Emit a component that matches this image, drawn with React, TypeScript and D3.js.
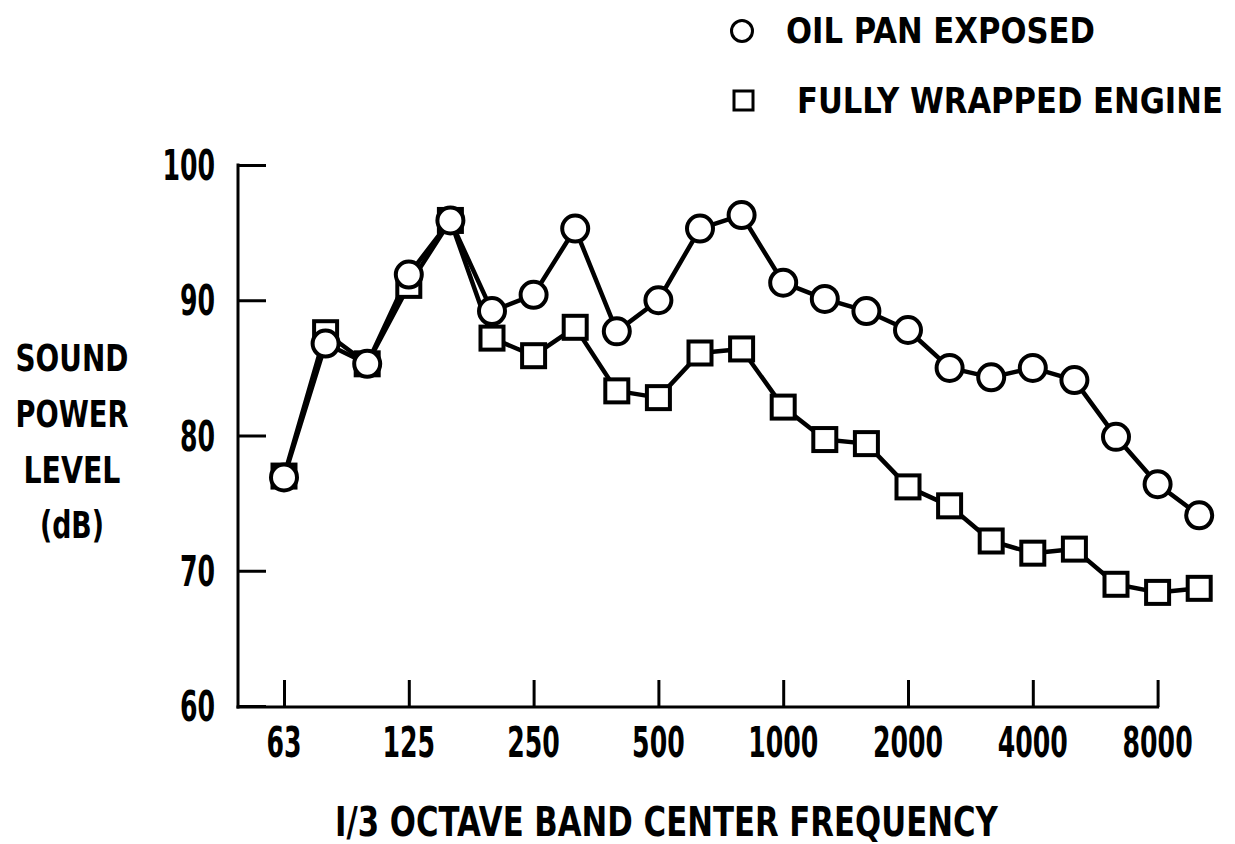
import React, { useRef, useEffect } from "react";
import * as d3 from "d3";

// 1/3 octave band centre frequencies (Hz)
const bands = [
  "63", "80", "100", "125", "160", "200", "250", "315", "400", "500", "630", "800",
  "1000", "1250", "1600", "2000", "2500", "3150", "4000", "5000", "6300", "8000", "10000",
];
const tickBands = ["63", "125", "250", "500", "1000", "2000", "4000", "8000"];
const yTicks = [60, 70, 80, 90, 100];

// sound power level, dB
const oilPanExposed = [
  76.9, 86.8, 85.3, 91.9, 95.9, 89.2, 90.4, 95.3, 87.7, 90.0, 95.3, 96.3,
  91.3, 90.1, 89.2, 87.8, 85.0, 84.3, 85.0, 84.1, 79.9, 76.4, 74.1,
];
const fullyWrapped = [
  77.0, 87.6, 85.3, 91.1, 95.9, 87.2, 85.9, 88.0, 83.3, 82.8, 86.1, 86.4,
  82.1, 79.7, 79.4, 76.2, 74.8, 72.2, 71.3, 71.6, 69.0, 68.4, 68.7,
];

const yTitleLines = ["SOUND", "POWER", "LEVEL", "(dB)"];

const FONT = "'DejaVu Sans', sans-serif";

export default function App() {
  const svgRef = useRef<SVGSVGElement | null>(null);

  useEffect(() => {
    const svg = d3.select(svgRef.current);
    svg.selectAll("*").remove();

    const width = 1235;
    const height = 844;
    svg.attr("width", width).attr("height", height).attr("viewBox", `0 0 ${width} ${height}`);

    const axisX = 238;
    const axisY = 707;
    const ink = "#000";

    const x = d3.scalePoint<string>().domain(bands).range([284, 284 + 22 * 41.6]);
    const y = d3.scaleLinear().domain([60, 100]).range([706, 165]);

    // the scan uses a narrow typeface, so squeeze DejaVu horizontally
    const label = (
      txt: string, cx: number, cy: number, size: number,
      anchor: string, sx: number,
    ) =>
      svg.append("text")
        .attr("transform", `translate(${cx},${cy}) scale(${sx},1)`)
        .attr("dy", "0.36em")
        .attr("text-anchor", anchor)
        .attr("font-family", FONT)
        .attr("font-weight", "bold")
        .attr("font-size", size)
        .attr("fill", ink)
        .text(txt);

    // squeeze to a given width, measured after render
    const fitLabel = (
      txt: string, left: number, cy: number, size: number, w: number,
    ) => {
      const t = label(txt, left, cy, size, "start", 1);
      const natural = (t.node() as SVGTextElement).getComputedTextLength() || w;
      t.attr("transform", `translate(${left},${cy}) scale(${w / natural},1)`);
      return t;
    };

    // axis lines
    svg.append("line")
      .attr("x1", axisX).attr("x2", axisX)
      .attr("y1", y(100) - 1.5).attr("y2", axisY + 1.5)
      .attr("stroke", ink).attr("stroke-width", 3);
    svg.append("line")
      .attr("x1", axisX - 1.5).attr("x2", (x("8000") as number) + 1.5)
      .attr("y1", axisY).attr("y2", axisY)
      .attr("stroke", ink).attr("stroke-width", 3);

    // ticks
    const gx = svg.append("g")
      .attr("transform", `translate(0,${axisY})`)
      .call(d3.axisBottom(x).tickValues(tickBands).tickSize(-27).tickSizeOuter(0).tickFormat(() => ""));
    gx.select(".domain").remove();
    gx.selectAll(".tick line").attr("stroke", ink).attr("stroke-width", 3);

    const gy = svg.append("g")
      .attr("transform", `translate(${axisX},0)`)
      .call(d3.axisLeft(y).tickValues(yTicks).tickSize(-28).tickSizeOuter(0).tickFormat(() => ""));
    gy.select(".domain").remove();
    gy.selectAll(".tick line").attr("stroke", ink).attr("stroke-width", 3);

    // tick labels
    tickBands.forEach((b) => label(b, x(b) as number, 742, 42, "middle", 0.6));
    yTicks.forEach((v) => label(String(v), 215, y(v), 42, "end", 0.6));

    // series lines
    const line = d3.line<number>()
      .x((_, i) => x(bands[i]) as number)
      .y((d) => y(d));

    [fullyWrapped, oilPanExposed].forEach((vals) => {
      svg.append("path")
        .datum(vals)
        .attr("fill", "none")
        .attr("stroke", ink)
        .attr("stroke-width", 4.5)
        .attr("stroke-linejoin", "round")
        .attr("d", line);
    });

    // squares
    const sq = 23;
    svg.append("g")
      .selectAll("rect")
      .data(fullyWrapped)
      .join("rect")
      .attr("x", (_, i) => (x(bands[i]) as number) - sq / 2)
      .attr("y", (d) => y(d) - sq / 2)
      .attr("width", sq)
      .attr("height", sq)
      .attr("fill", "#fff")
      .attr("stroke", ink)
      .attr("stroke-width", 4);

    // circles
    svg.append("g")
      .selectAll("circle")
      .data(oilPanExposed)
      .join("circle")
      .attr("cx", (_, i) => x(bands[i]) as number)
      .attr("cy", (d) => y(d))
      .attr("r", 13)
      .attr("fill", "#fff")
      .attr("stroke", ink)
      .attr("stroke-width", 4);

    // legend
    svg.append("circle")
      .attr("cx", 742).attr("cy", 31).attr("r", 10.5)
      .attr("fill", "#fff").attr("stroke", ink).attr("stroke-width", 3);
    fitLabel("OIL PAN EXPOSED", 786, 30, 35, 309);
    svg.append("rect")
      .attr("x", 734).attr("y", 91).attr("width", 19).attr("height", 19)
      .attr("fill", "#fff").attr("stroke", ink).attr("stroke-width", 3);
    fitLabel("FULLY WRAPPED ENGINE", 797, 100, 35, 426);

    // y title
    const yTitleY = [358, 414, 470, 525];
    const yTitleW = [113, 113, 97, 64];
    yTitleLines.forEach((t, i) => fitLabel(t, 72 - yTitleW[i] / 2, yTitleY[i], 37, yTitleW[i]));

    // x title
    fitLabel("I/3 OCTAVE BAND CENTER FREQUENCY", 335, 822, 40, 663);
  }, []);

  return (
    <svg
      ref={svgRef}
      style={{ position: "absolute", left: 0, top: 0, display: "block", background: "#fff" }}
    />
  );
}
